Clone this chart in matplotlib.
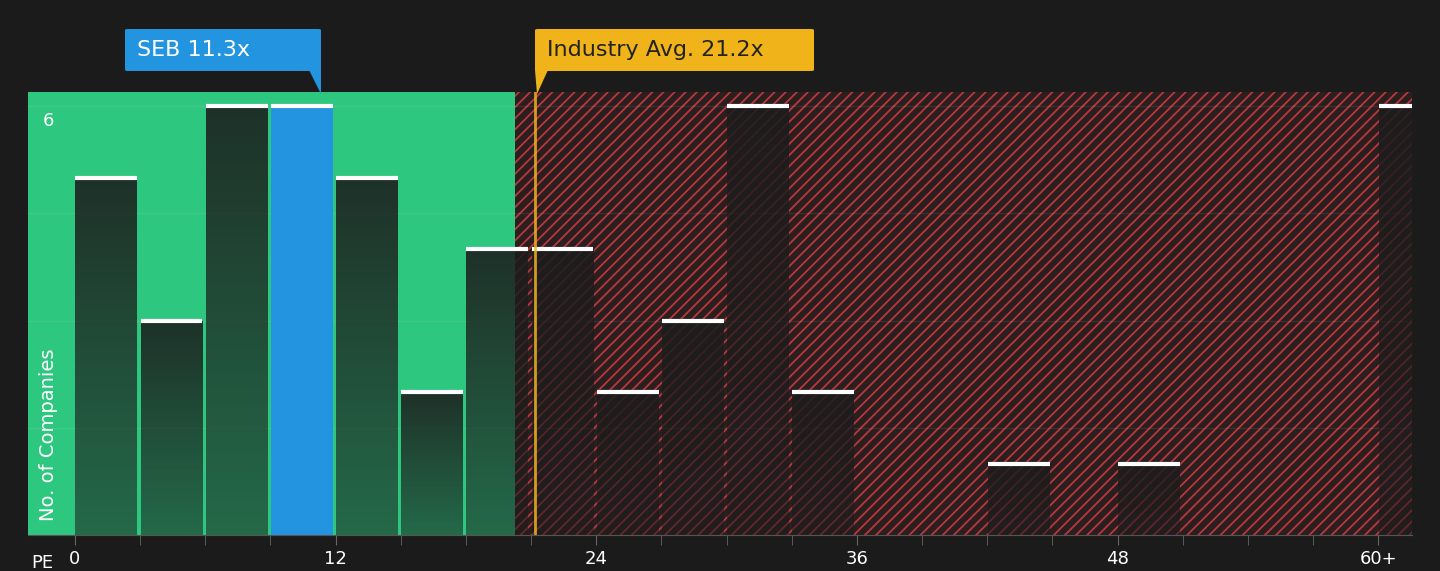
import numpy as np
import matplotlib.pyplot as plt
from matplotlib.patches import Rectangle, FancyBboxPatch, Polygon

bin_left = [0, 3, 6, 9, 12, 15, 18, 21, 24, 27, 30, 33, 36, 39, 42, 45, 48, 51, 54, 57, 60]
counts = [5, 3, 6, 6, 5, 2, 4, 4, 2, 3, 6, 2, 0, 0, 1, 0, 1, 0, 0, 0, 6]
company_pe = 11.3
industry_pe = 21.2
fair_limit = 20.26
tick_vals = [0, 12, 24, 36, 48, 60]
tick_text = ["0", "12", "24", "36", "48", "60+"]

bg = "#1b1b1b"
fig = plt.figure(figsize=(14.4, 5.71), dpi=100, facecolor=bg)
ax = fig.add_axes([28 / 1440, 36 / 571, 1384 / 1440, 443 / 571])
ax.set_facecolor(bg)
xmin, xmax, ymax = -2.16, 61.55, 6.2

plt.rcParams["hatch.linewidth"] = 1.3
ax.add_patch(Rectangle((xmin, 0), fair_limit - xmin, ymax, facecolor="#2ec77f", edgecolor="none", zorder=0))
ax.add_patch(Rectangle((fair_limit, 0), xmax - fair_limit, ymax, facecolor="#2a1e1f",
                       edgecolor="#b8383d", hatch="///", linewidth=0, zorder=0))
for g in [1.5, 3, 4.5, 6]:
    ax.axhline(g, color="white", alpha=0.08, lw=1, zorder=1)

grad = np.zeros((100, 1, 4))
grad[..., :3] = 0.11
grad[:, 0, 3] = np.linspace(0.88, 0.55, 100)
for left, c in zip(bin_left, counts):
    if c == 0:
        continue
    x0, x1 = left + 0.02, left + 2.87
    if left == company_pe - company_pe % 3:
        ax.add_patch(Rectangle((x0, 0), x1 - x0, c, facecolor="#2394e0", edgecolor="none", zorder=2))
    else:
        rect = Rectangle((x0, 0), x1 - x0, c, facecolor="none", edgecolor="none", zorder=2)
        ax.add_patch(rect)
        im = ax.imshow(grad, extent=(x0, x1, 0, c), aspect="auto", zorder=2, origin="upper")
        im.set_clip_path(rect)
    ax.plot([x0, x1], [c, c], color="white", lw=3, zorder=3, solid_capstyle="butt")

ax.axvline(industry_pe, color="#f0b31a", lw=2, alpha=0.85, zorder=3)
ax.set_aspect("auto")
ax.set_xlim(xmin, xmax)
ax.set_ylim(0, ymax)

for s in ["top", "right", "left"]:
    ax.spines[s].set_visible(False)
ax.spines["bottom"].set_color("#555555")
ax.set_yticks([])
ax.set_xticks(np.arange(0, 61, 3), minor=True)
ax.set_xticks(tick_vals)
ax.set_xticklabels(tick_text, color="white", fontsize=13)
ax.tick_params(axis="x", which="both", color="#666666", length=7, pad=4)
fig.text(42 / 1440, 1 - 563 / 571, "PE", color="white", fontsize=13, ha="center", va="center")
ax.text(-1.2, 5.8, "6", color="white", fontsize=13, ha="center", va="center")
ax.text(-1.2, 0.2, "No. of Companies", color="white", fontsize=14, rotation=90, ha="center", va="bottom")

# annotation boxes (figure pixel coords)
def box(x0, x1, color, text, tcolor, tip):
    fx = lambda p: p / 1440
    fy = lambda p: 1 - p / 571
    fig.patches.append(FancyBboxPatch((fx(x0), fy(71)), fx(x1 - x0), 42 / 571,
                                      boxstyle="round,pad=0,rounding_size=0.002",
                                      transform=fig.transFigure, facecolor=color, edgecolor="none"))
    fig.patches.append(Polygon([(fx(p[0]), fy(p[1])) for p in tip], closed=True,
                               transform=fig.transFigure, facecolor=color, edgecolor="none"))
    fig.text(fx(x0 + 12), fy(50), text, color=tcolor, fontsize=16, va="center", ha="left")

box(125, 321, "#2394e0", "SEB 11.3x", "white", [(309, 70), (321, 70), (321, 94)])
box(535, 814, "#f0b31a", "Industry Avg. 21.2x", "#222222", [(535, 70), (548, 70), (537, 94)])

fig.savefig("out.png", dpi=100, facecolor=bg)
